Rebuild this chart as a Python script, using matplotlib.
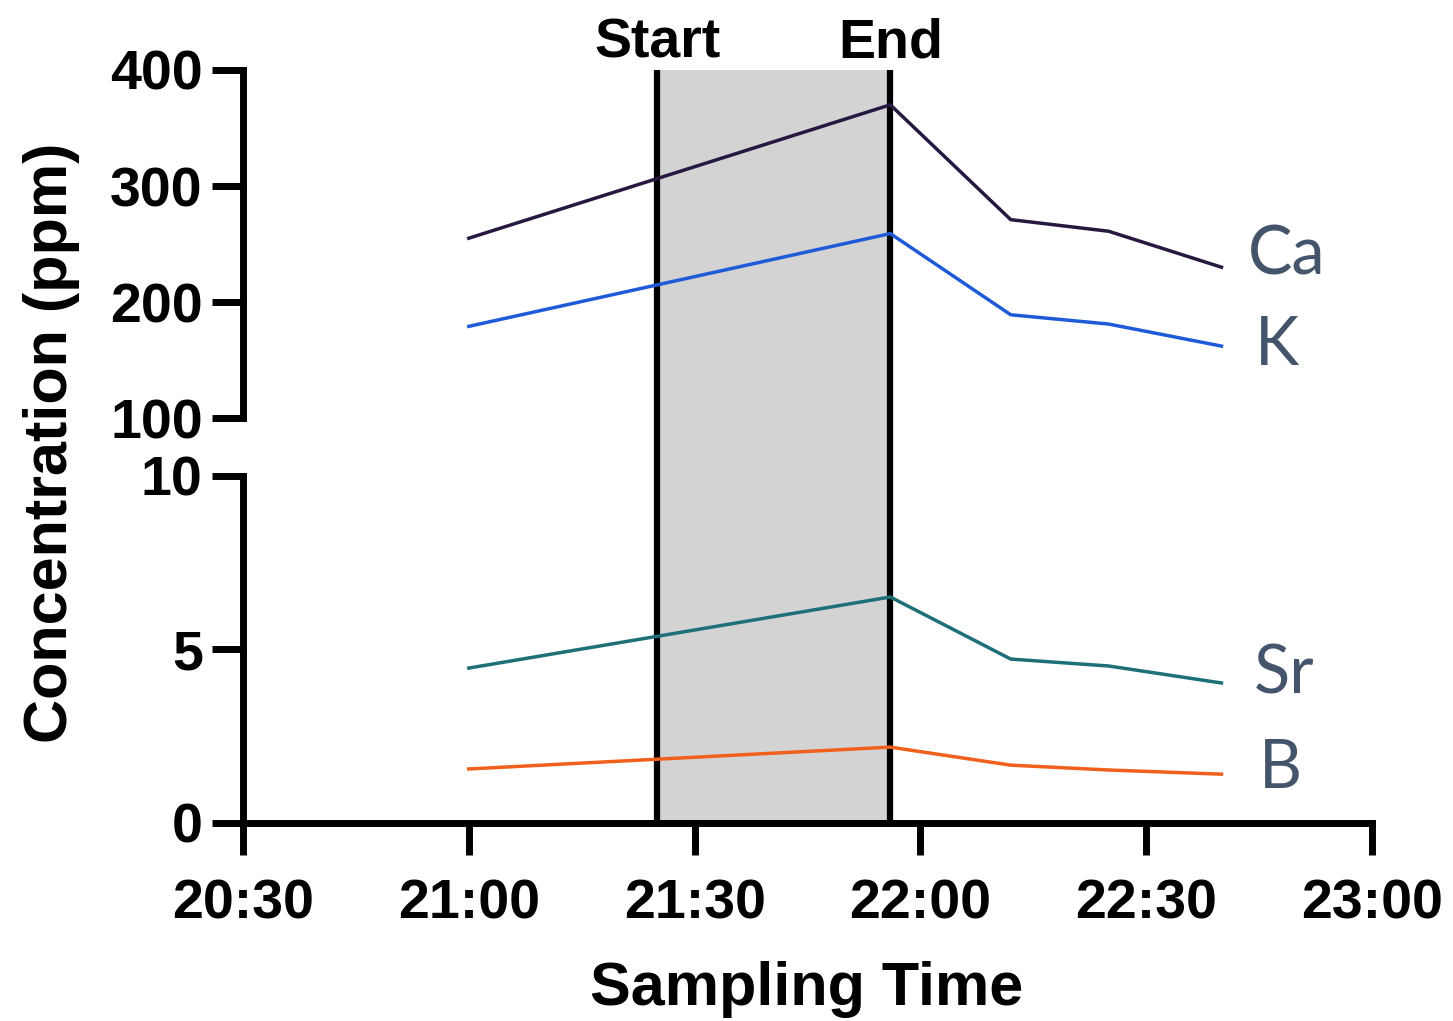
import matplotlib
matplotlib.use("Agg")
import matplotlib.pyplot as plt

# Sampling times (HH:MM) and measured concentrations
times = ["21:00", "21:56", "22:12", "22:25", "22:40"]
ca = [255, 370, 271, 261, 230]
k = [179, 259, 189, 181, 162]
sr = [4.46, 6.51, 4.72, 4.52, 4.03]
b = [1.55, 2.18, 1.66, 1.52, 1.40]

window_start = "21:25"
window_end = "21:56"

x_ticks = ["20:30", "21:00", "21:30", "22:00", "22:30", "23:00"]
upper_ticks = [100, 200, 300, 400]
lower_ticks = [0, 5, 10]


def to_min(t):
    h, m = t.split(":")
    return int(h) * 60 + int(m)


x = [to_min(t) for t in times]
xt = [to_min(t) for t in x_ticks]
x0, x1 = xt[0], xt[-1]

plt.rcParams["font.family"] = ["Liberation Sans", "DejaVu Sans"]
plt.rcParams["font.weight"] = "bold"

W, H = 1453, 1021
fig = plt.figure(figsize=(W / 100, H / 100), dpi=100)


def fy(px):
    return 1 - px / H


left = 243 / W
width = (1372 - 243) / W
top_hi, top_lo = 70, 418
bot_hi, bot_lo = 476, 822.7

# Background panel with the sampling window
bg = fig.add_axes([left, fy(bot_lo), width, fy(top_hi) - fy(bot_lo)], zorder=0)
bg.set_xlim(x0, x1)
bg.set_ylim(0, 1)
bg.axis("off")
bg.axvspan(to_min(window_start), to_min(window_end), color="#d3d3d3", lw=0)
for t in (window_start, window_end):
    bg.axvline(to_min(t), color="black", lw=4.5)

ax_top = fig.add_axes([left, fy(top_lo), width, fy(top_hi) - fy(top_lo)], zorder=1)
ax_bot = fig.add_axes([left, fy(bot_lo), width, fy(bot_hi) - fy(bot_lo)], zorder=1)

lw = 2.5
ax_top.plot(x, ca, color="#27183f", lw=lw, solid_joinstyle="miter")
ax_top.plot(x, k, color="#1f5bd8", lw=lw, solid_joinstyle="miter")
ax_bot.plot(x, sr, color="#1d6f78", lw=lw, solid_joinstyle="miter")
ax_bot.plot(x, b, color="#f0601c", lw=lw, solid_joinstyle="miter")

for ax in (ax_top, ax_bot):
    ax.set_facecolor("none")
    ax.set_xlim(x0, x1)
    ax.spines["top"].set_visible(False)
    ax.spines["right"].set_visible(False)
    ax.spines["left"].set_linewidth(5)
    ax.spines["bottom"].set_linewidth(5)
    ax.tick_params(axis="y", length=22, width=5, pad=7, labelsize=40)
    ax.tick_params(axis="x", length=23, width=5, pad=17, labelsize=40)

ax_top.set_ylim(100, 400)
ax_top.set_yticks(upper_ticks)
ax_top.spines["bottom"].set_visible(False)
ax_top.tick_params(axis="x", bottom=False, labelbottom=False)

ax_bot.set_ylim(0, 10)
ax_bot.set_yticks(lower_ticks)
ax_bot.set_xticks(xt)
ax_bot.set_xticklabels(x_ticks)

for ax in (ax_top, ax_bot):
    for lab in ax.get_yticklabels() + ax.get_xticklabels():
        lab.set_fontweight("bold")

# Series labels
lab_kw = dict(fontsize=48, color="#44546a", family=["Lato", "DejaVu Sans"],
              fontweight="normal", va="baseline", ha="left")
ax_top.text(1363.5, 224, "Ca", **lab_kw)
ax_top.text(1364.5, 146, "K", **lab_kw)
ax_bot.text(1364.3, 3.74, "Sr", **lab_kw)
ax_bot.text(1365.0, 1.01, "B", **lab_kw)

# Window annotations
fig.text(658 / W, fy(57), "Start", fontsize=40, fontweight="bold",
         ha="center", va="baseline")
fig.text(891 / W, fy(57), "End", fontsize=40, fontweight="bold",
         ha="center", va="baseline")

fig.text(52 / W, fy(443), "Concentration (ppm)", rotation=90, fontsize=44,
         fontweight="bold", ha="center", va="center")
fig.text(807 / W, fy(1005), "Sampling Time", fontsize=44,
         fontweight="bold", ha="center", va="baseline")

fig.savefig("out.png", dpi=100)
